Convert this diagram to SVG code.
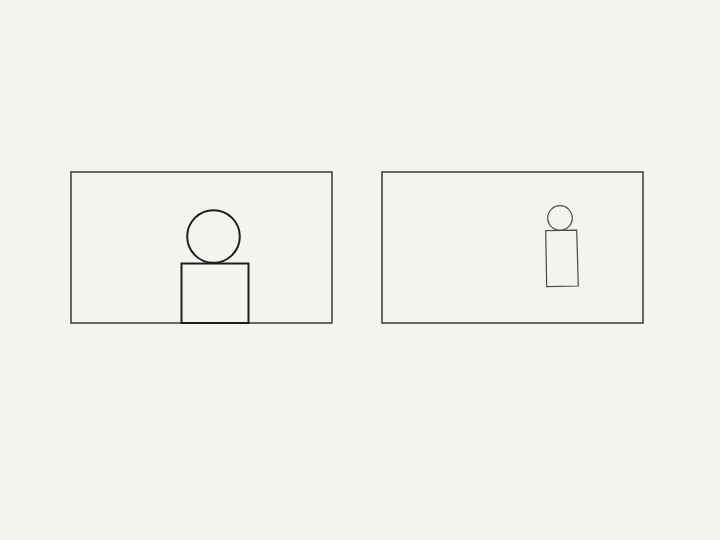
<svg xmlns="http://www.w3.org/2000/svg" width="720" height="540" viewBox="0 0 720 540">
  <style>
    .frame { fill: none; stroke: #3a3a3a; stroke-width: 1.5; }
    .big { fill: none; stroke: #1e1e1e; stroke-width: 2; }
    .small { fill: none; stroke: #4a4a4a; stroke-width: 1.2; }
  </style>
  <rect width="720" height="540" fill="#f4f3f0"/>
  <g id="closeup">
    <rect class="frame" x="71" y="172" width="261" height="151"/>
    <circle class="big" cx="213.5" cy="236.5" r="26.3"/>
    <rect class="big" x="181.5" y="263.5" width="67" height="59.5"/>
  </g>
  <g id="wideshot">
    <rect class="frame" x="382" y="172" width="261" height="151"/>
    <circle class="small" cx="560" cy="218" r="12.3"/>
    <polygon class="small" points="545.7,230.7 576.7,230.2 578.3,286 546.7,286.7"/>
  </g>
</svg>
